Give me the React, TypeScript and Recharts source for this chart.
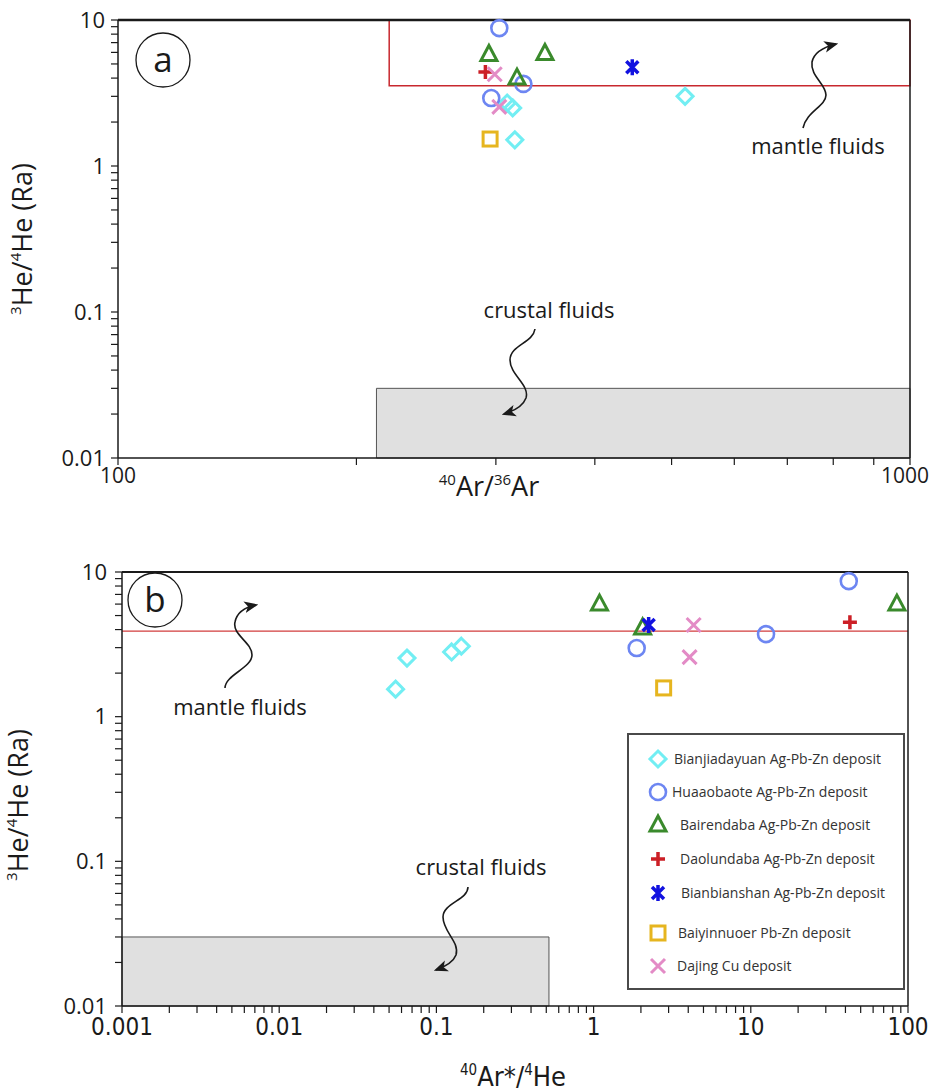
import React from "react";
import {
  ScatterChart,
  Scatter,
  XAxis,
  YAxis,
  ReferenceArea,
  ReferenceLine,
  Legend,
} from "recharts";

const seriesNames = [
  "Bianjiadayuan Ag-Pb-Zn deposit",
  "Huaaobaote Ag-Pb-Zn deposit",
  "Bairendaba Ag-Pb-Zn deposit",
  "Daolundaba Ag-Pb-Zn deposit",
  "Bianbianshan Ag-Pb-Zn deposit",
  "Baiyinnuoer Pb-Zn deposit",
  "Dajing Cu deposit",
];
const seriesColors = ["#72eef3", "#6d86f2", "#3a8a2c", "#cc1f26", "#1212e0", "#e6b51f", "#e38bc6"];
const seriesShapes = ["diamond", "circle", "triangle", "plus", "asterisk", "square", "cross"];

// panel a: 40Ar/36Ar vs 3He/4He
const aBianjiadayuan = [
  { x: 310, y: 2.7 },
  { x: 315, y: 2.5 },
  { x: 317, y: 1.51 },
  { x: 520, y: 3.0 },
];
const aHuaaobaote = [
  { x: 303, y: 8.8 },
  { x: 296, y: 2.92 },
  { x: 325, y: 3.65 },
];
const aBairendaba = [
  { x: 294, y: 5.8 },
  { x: 346, y: 5.9 },
  { x: 319, y: 4.0 },
];
const aDaolundaba = [{ x: 291, y: 4.4 }];
const aBianbianshan = [{ x: 446, y: 4.75 }];
const aBaiyinnuoer = [{ x: 295, y: 1.53 }];
const aDajing = [
  { x: 299, y: 4.25 },
  { x: 303, y: 2.54 },
];

// panel b: 40Ar*/4He vs 3He/4He
const bBianjiadayuan = [
  { x: 0.055, y: 1.55 },
  { x: 0.065, y: 2.54 },
  { x: 0.125, y: 2.8 },
  { x: 0.144, y: 3.07 },
];
const bHuaaobaote = [
  { x: 42, y: 8.65 },
  { x: 12.5, y: 3.72 },
  { x: 1.88, y: 2.98 },
];
const bBairendaba = [
  { x: 1.09, y: 6.0 },
  { x: 2.05, y: 4.1 },
  { x: 85, y: 6.0 },
];
const bDaolundaba = [{ x: 42.7, y: 4.5 }];
const bBianbianshan = [{ x: 2.24, y: 4.3 }];
const bBaiyinnuoer = [{ x: 2.79, y: 1.58 }];
const bDajing = [
  { x: 4.33, y: 4.3 },
  { x: 4.08, y: 2.58 },
];

const aSeries = [aBianjiadayuan, aHuaaobaote, aBairendaba, aDaolundaba, aBianbianshan, aBaiyinnuoer, aDajing];
const bSeries = [bBianjiadayuan, bHuaaobaote, bBairendaba, bDaolundaba, bBianbianshan, bBaiyinnuoer, bDajing];

const yTicks = [
  0.01, 0.02, 0.03, 0.04, 0.05, 0.06, 0.07, 0.08, 0.09,
  0.1, 0.2, 0.3, 0.4, 0.5, 0.6, 0.7, 0.8, 0.9,
  1, 2, 3, 4, 5, 6, 7, 8, 9, 10,
];
const yLabels = [0.01, 0.1, 1, 10];
const aXTicks = [100, 200, 300, 400, 500, 600, 700, 800, 900, 1000];
const aXLabels = [100, 1000];
const bXTicks = [
  0.001, 0.002, 0.003, 0.004, 0.005, 0.006, 0.007, 0.008, 0.009,
  0.01, 0.02, 0.03, 0.04, 0.05, 0.06, 0.07, 0.08, 0.09,
  0.1, 0.2, 0.3, 0.4, 0.5, 0.6, 0.7, 0.8, 0.9,
  1, 2, 3, 4, 5, 6, 7, 8, 9,
  10, 20, 30, 40, 50, 60, 70, 80, 90, 100,
];
const bXLabels = [0.001, 0.01, 0.1, 1, 10, 100];

const FONT = "'Open Sans', 'DejaVu Sans', sans-serif";
const NARROW = "'Liberation Sans Narrow', 'DejaVu Sans Condensed', 'Open Sans', sans-serif";
const INK = "#1a1a1a";

const onlyLabels = (labels: number[]) => (v: number) => (labels.includes(v) ? String(v) : "");

function Marker({ kind, cx, cy, color }: { kind: string; cx: number; cy: number; color: string }) {
  const common = { fill: "none", stroke: color, strokeWidth: 3 };
  switch (kind) {
    case "diamond":
      return <polygon points={`${cx},${cy - 8} ${cx + 8},${cy} ${cx},${cy + 8} ${cx - 8},${cy}`} {...common} />;
    case "circle":
      return <circle cx={cx} cy={cy} r={8} {...common} strokeWidth={2.6} />;
    case "triangle":
      return <polygon points={`${cx},${cy - 9} ${cx + 8},${cy + 6} ${cx - 8},${cy + 6}`} {...common} strokeLinejoin="miter" />;
    case "plus":
      return <path d={`M${cx - 7},${cy}H${cx + 7}M${cx},${cy - 7}V${cy + 7}`} {...common} strokeWidth={3.5} />;
    case "asterisk":
      return (
        <path
          d={`M${cx},${cy - 8}V${cy + 8}M${cx - 6},${cy - 6}L${cx + 6},${cy + 6}M${cx - 6},${cy + 6}L${cx + 6},${cy - 6}`}
          {...common}
          strokeWidth={3.5}
        />
      );
    case "square":
      return <rect x={cx - 7} y={cy - 7} width={14} height={14} {...common} />;
    default:
      return <path d={`M${cx - 7},${cy - 7}L${cx + 7},${cy + 7}M${cx - 7},${cy + 7}L${cx + 7},${cy - 7}`} {...common} />;
  }
}

const yAxisLabel = (cx: number, shift: number) => (props: any) => {
  const vb = props.viewBox;
  const cy = vb.y + vb.height / 2 + shift;
  return (
    <text x={cx} y={cy} transform={`rotate(-90, ${cx}, ${cy})`} textAnchor="middle" fill={INK} fontSize={27} fontFamily={FONT}>
      <tspan fontSize={15} dy={-11}>3</tspan>
      <tspan dy={11}>He/</tspan>
      <tspan fontSize={15} dy={-11}>4</tspan>
      <tspan dy={11}>He (Ra)</tspan>
    </text>
  );
};

// x tick for panel a, last label pulled in so it stays on the page
const aXTick = (props: any) => {
  const { x, y, payload } = props;
  const label = onlyLabels(aXLabels)(payload.value);
  if (!label) return null;
  const dx = payload.value === 1000 ? -5 : 0;
  return (
    <text x={x + dx} y={y} dy="0.71em" textAnchor="middle" fill={INK} fontSize={21} fontFamily={FONT}>
      {label}
    </text>
  );
};

const legendRows = [24, 57, 90, 124, 158, 198, 231];
const legendTextX = [45, 43, 51, 51, 52, 49, 48];

const renderLegend = () => (
  <div
    style={{
      position: "relative",
      width: 278,
      height: 257,
      boxSizing: "border-box",
      border: "2px solid #4a4a4a",
      background: "#fff",
      fontFamily: FONT,
      fontSize: 14,
      color: "#333",
    }}
  >
    {seriesNames.map((name, i) => (
      <div key={name} style={{ position: "absolute", left: 0, top: legendRows[i] - 12, height: 24, width: 276 }}>
        <svg width={44} height={24} style={{ position: "absolute", left: 0, top: 0 }}>
          <Marker kind={seriesShapes[i]} cx={29} cy={12} color={seriesColors[i]} />
        </svg>
        <span style={{ position: "absolute", left: legendTextX[i], top: 2, whiteSpace: "nowrap" }}>{name}</span>
      </div>
    ))}
  </div>
);

function Arrow({ d }: { d: string }) {
  return <path d={d} fill="none" stroke={INK} strokeWidth={1.6} markerEnd="url(#arrowHead)" />;
}

function Overlay() {
  return (
    <svg width={929} height={1091} style={{ position: "absolute", left: 0, top: 0, pointerEvents: "none" }}>
      <defs>
        <marker id="arrowHead" viewBox="0 0 12 10" refX="10" refY="5" markerWidth="14" markerHeight="12" markerUnits="userSpaceOnUse" orient="auto">
          <path d="M0,0 L12,5 L0,10 L3,5 Z" fill={INK} />
        </marker>
      </defs>
      <g fontFamily={FONT} fill={INK}>
        <circle cx={163} cy={60} r={27} fill="#fff" stroke={INK} strokeWidth={1.3} />
        <text x={163} y={72} textAnchor="middle" fontSize={35}>a</text>
        <circle cx={155} cy={600} r={27} fill="#fff" stroke={INK} strokeWidth={1.3} />
        <text x={155} y={612} textAnchor="middle" fontSize={35}>b</text>

        <text x={818} y={154} textAnchor="middle" fontSize={22}>mantle fluids</text>
        <text x={549} y={318} textAnchor="middle" fontSize={22}>crustal fluids</text>
        <text x={240} y={715} textAnchor="middle" fontSize={22}>mantle fluids</text>
        <text x={481} y={875} textAnchor="middle" fontSize={22}>crustal fluids</text>
      </g>
      <Arrow d="M803,128 C806,112 826,106 826,95 C826,84 810,76 812,62 C814,52 824,47 836,44" />
      <Arrow d="M535,329 C533,343 510,345 510,360 C510,375 530,385 526,398 C523,406 514,411 504,414" />
      <Arrow d="M225,688 C225,675 252,668 252,655 C252,642 232,635 235,622 C237,612 246,607 256,605" />
      <Arrow d="M468,887 C468,900 443,903 443,917 C443,932 460,942 456,955 C453,963 444,967 436,970" />
    </svg>
  );
}

function ChartA() {
  return (
    <ScatterChart width={929} height={530} margin={{ top: 20, right: 19, bottom: 0, left: 0 }}>
      <XAxis
        type="number"
        dataKey="x"
        scale="log"
        domain={[100, 1000]}
        ticks={aXTicks}
        interval={0}
        height={72}
        axisLine={{ stroke: INK, strokeWidth: 1.5 }}
        tickLine={{ stroke: INK, strokeWidth: 1.2 }}
        tickSize={7}
        tickMargin={3}
        tick={aXTick}
        label={(props: any) => {
          const vb = props.viewBox;
          return (
            <text x={vb.x + vb.width / 2 - 25} y={496} textAnchor="middle" fill={INK} fontSize={27} fontFamily={FONT}>
              <tspan fontSize={15} dy={-11}>40</tspan>
              <tspan dy={11}>Ar/</tspan>
              <tspan fontSize={15} dy={-11}>36</tspan>
              <tspan dy={11}>Ar</tspan>
            </text>
          );
        }}
      />
      <YAxis
        type="number"
        dataKey="y"
        scale="log"
        domain={[0.01, 10]}
        ticks={yTicks}
        interval={0}
        tickFormatter={onlyLabels(yLabels)}
        width={118}
        axisLine={{ stroke: INK, strokeWidth: 1.5 }}
        tickLine={{ stroke: INK, strokeWidth: 1.2 }}
        tickSize={7}
        tickMargin={6}
        tick={{ fill: INK, fontSize: 22, fontFamily: FONT }}
        label={yAxisLabel(32, 0)}
      />
      <ReferenceArea x1={212} x2={1000} y1={0.01} y2={0.03} fill="#e0e0e0" fillOpacity={1} stroke="#555" strokeWidth={1} />
      <ReferenceArea x1={220} x2={1000} y1={3.55} y2={10} fill="none" stroke="#c8282e" strokeWidth={1.5} />
      <ReferenceLine y={10} stroke={INK} strokeWidth={2.5} />
      <ReferenceLine x={1000} stroke={INK} strokeWidth={1.5} />
      {aSeries.map((data, i) => (
        <Scatter
          key={seriesNames[i]}
          name={seriesNames[i]}
          data={data}
          isAnimationActive={false}
          shape={(p: any) => <Marker kind={seriesShapes[i]} cx={p.cx} cy={p.cy} color={seriesColors[i]} />}
        />
      ))}
    </ScatterChart>
  );
}

function ChartB() {
  return (
    <ScatterChart width={929} height={551} margin={{ top: 32, right: 21, bottom: 0, left: 0 }}>
      <XAxis
        type="number"
        dataKey="x"
        scale="log"
        domain={[0.001, 100]}
        ticks={bXTicks}
        interval={0}
        tickFormatter={onlyLabels(bXLabels)}
        height={85}
        axisLine={{ stroke: INK, strokeWidth: 1.5 }}
        tickLine={{ stroke: INK, strokeWidth: 1.2 }}
        tickSize={7}
        tickMargin={5}
        tick={{ fill: INK, fontSize: 24, fontFamily: NARROW }}
        label={(props: any) => {
          const vb = props.viewBox;
          return (
            <text x={vb.x + vb.width / 2 - 2} y={546} textAnchor="middle" fill={INK} fontSize={27} fontFamily={NARROW}>
              <tspan fontSize={15} dy={-11}>40</tspan>
              <tspan dy={11}>Ar*/</tspan>
              <tspan fontSize={15} dy={-11}>4</tspan>
              <tspan dy={11}>He</tspan>
            </text>
          );
        }}
      />
      <YAxis
        type="number"
        dataKey="y"
        scale="log"
        domain={[0.01, 10]}
        ticks={yTicks}
        interval={0}
        tickFormatter={onlyLabels(yLabels)}
        width={122}
        axisLine={{ stroke: INK, strokeWidth: 1.5 }}
        tickLine={{ stroke: INK, strokeWidth: 1.2 }}
        tickSize={7}
        tickMargin={8}
        tick={{ fill: INK, fontSize: 22, fontFamily: FONT }}
        label={yAxisLabel(28, 16)}
      />
      <ReferenceArea x1={0.001} x2={0.52} y1={0.01} y2={0.03} fill="#e0e0e0" fillOpacity={1} stroke="#555" strokeWidth={1} />
      <ReferenceLine y={3.9} stroke="#d23c3c" strokeWidth={1.2} />
      <ReferenceLine y={10} stroke={INK} strokeWidth={2} />
      <ReferenceLine x={100} stroke={INK} strokeWidth={1.5} />
      {bSeries.map((data, i) => (
        <Scatter
          key={seriesNames[i]}
          name={seriesNames[i]}
          data={data}
          isAnimationActive={false}
          shape={(p: any) => <Marker kind={seriesShapes[i]} cx={p.cx} cy={p.cy} color={seriesColors[i]} />}
        />
      ))}
      <Legend
        layout="vertical"
        align="center"
        verticalAlign="middle"
        content={renderLegend}
        wrapperStyle={{ left: 627, top: 193, width: 278, height: 257 }}
      />
    </ScatterChart>
  );
}

export default function App() {
  return (
    <div style={{ position: "absolute", left: 0, top: 0, width: 929, height: 1091, background: "#fff" }}>
      <div style={{ position: "absolute", left: 0, top: 0 }}>
        <ChartA />
      </div>
      <div style={{ position: "absolute", left: 0, top: 540 }}>
        <ChartB />
      </div>
      <Overlay />
    </div>
  );
}
